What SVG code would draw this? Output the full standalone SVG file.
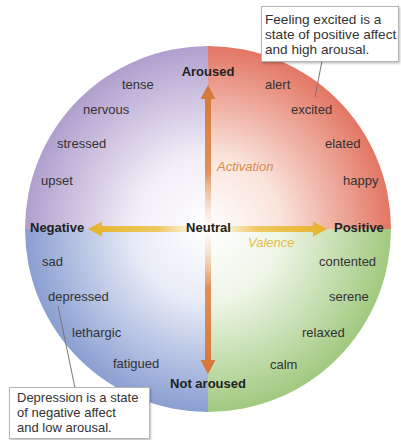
<svg xmlns="http://www.w3.org/2000/svg" width="401" height="440" viewBox="0 0 401 440">
  <defs>
    <radialGradient id="gPurple" gradientUnits="userSpaceOnUse" cx="208" cy="229" r="183">
      <stop offset="0" stop-color="#ffffff"/>
      <stop offset="0.4" stop-color="#f2eef7"/>
      <stop offset="1" stop-color="#b09fce"/>
    </radialGradient>
    <radialGradient id="gRed" gradientUnits="userSpaceOnUse" cx="208" cy="229" r="183">
      <stop offset="0" stop-color="#ffffff"/>
      <stop offset="0.4" stop-color="#fae4dc"/>
      <stop offset="1" stop-color="#e37663"/>
    </radialGradient>
    <radialGradient id="gBlue" gradientUnits="userSpaceOnUse" cx="208" cy="229" r="183">
      <stop offset="0" stop-color="#ffffff"/>
      <stop offset="0.4" stop-color="#e8ecf7"/>
      <stop offset="1" stop-color="#8a9ed1"/>
    </radialGradient>
    <radialGradient id="gGreen" gradientUnits="userSpaceOnUse" cx="208" cy="229" r="183">
      <stop offset="0" stop-color="#ffffff"/>
      <stop offset="0.4" stop-color="#eef6e7"/>
      <stop offset="1" stop-color="#a1c97f"/>
    </radialGradient>
    <linearGradient id="gVert" gradientUnits="userSpaceOnUse" x1="0" y1="85" x2="0" y2="374">
      <stop offset="0" stop-color="#d47638"/>
      <stop offset="0.3" stop-color="#e09058"/>
      <stop offset="0.5" stop-color="#fbeee4" stop-opacity="0.2"/>
      <stop offset="0.7" stop-color="#e09058"/>
      <stop offset="1" stop-color="#d47638"/>
    </linearGradient>
    <linearGradient id="gHorz" gradientUnits="userSpaceOnUse" x1="88" y1="0" x2="327" y2="0">
      <stop offset="0" stop-color="#e6b22a"/>
      <stop offset="0.3" stop-color="#efc964"/>
      <stop offset="0.5" stop-color="#fdf5e0" stop-opacity="0.2"/>
      <stop offset="0.7" stop-color="#efc964"/>
      <stop offset="1" stop-color="#e6b22a"/>
    </linearGradient>
    <filter id="shadow" x="-10%" y="-10%" width="130%" height="140%">
      <feDropShadow dx="1" dy="1.5" stdDeviation="1.2" flood-color="#000" flood-opacity="0.25"/>
    </filter>
  </defs>
  <style>
    .word { font-family: "Liberation Sans", Arial, sans-serif; font-size: 13px; fill: #333333; }
    .axis { font-family: "Liberation Sans", Arial, sans-serif; font-size: 13px; font-weight: bold; fill: #222222; }
    .act { font-family: "Liberation Sans", Arial, sans-serif; font-size: 13px; font-style: italic; fill: #d9894c; }
    .val { font-family: "Liberation Sans", Arial, sans-serif; font-size: 13px; font-style: italic; fill: #e3bc48; }
    .note { font-family: "Liberation Sans", Arial, sans-serif; font-size: 13px; fill: #333333; }
    .note-lg { font-size: 13.6px; }
    .box { fill: #ffffff; stroke: #b5b5b5; stroke-width: 1; }
    .leader { stroke: #777777; stroke-width: 1; fill: none; }
  </style>

  <!-- circumplex disc: four quadrants fading to white at the centre -->
  <g id="disc">
    <path d="M208 229 L208 46 A183 183 0 0 0 25 229 Z" fill="url(#gPurple)"/>
    <path d="M208 229 L208 46 A183 183 0 0 1 391 229 Z" fill="url(#gRed)"/>
    <path d="M208 229 L25 229 A183 183 0 0 0 208 412 Z" fill="url(#gBlue)"/>
    <path d="M208 229 L391 229 A183 183 0 0 1 208 412 Z" fill="url(#gGreen)"/>
  </g>

  <!-- axes -->
  <g id="connectors">
    <path id="activation-axis" d="M205 99 L200.5 99 L208 85 L215.5 99 L211 99 L211 360 L215.5 360 L208 374 L200.5 360 L205 360 Z" fill="url(#gVert)"/>
    <path id="valence-axis" d="M102 226 L102 221.5 L88 229 L102 236.5 L102 232 L313 232 L313 236.5 L327 229 L313 221.5 L313 226 Z" fill="url(#gHorz)"/>
    <line class="leader" x1="322" y1="61" x2="315" y2="97"/>
    <line class="leader" x1="58" y1="306" x2="75" y2="388"/>
  </g>

  <g id="aroused"><text class="axis" x="208" y="76" text-anchor="middle">Aroused</text></g>
  <g id="not-aroused"><text class="axis" x="208" y="388" text-anchor="middle">Not aroused</text></g>
  <g id="negative"><text class="axis" x="30" y="232">Negative</text></g>
  <g id="positive"><text class="axis" x="334" y="232">Positive</text></g>
  <g id="neutral"><text class="axis" x="208.5" y="232" text-anchor="middle">Neutral</text></g>
  <g id="activation"><text class="act" x="217" y="171">Activation</text></g>
  <g id="valence"><text class="val" x="248" y="247">Valence</text></g>

  <!-- negative / aroused -->
  <g id="tense"><text class="word" x="122" y="89">tense</text></g>
  <g id="nervous"><text class="word" x="83" y="114">nervous</text></g>
  <g id="stressed"><text class="word" x="57" y="148">stressed</text></g>
  <g id="upset"><text class="word" x="41" y="185">upset</text></g>

  <!-- positive / aroused -->
  <g id="alert"><text class="word" x="265" y="89">alert</text></g>
  <g id="excited"><text class="word" x="291" y="114">excited</text></g>
  <g id="elated"><text class="word" x="325" y="148">elated</text></g>
  <g id="happy"><text class="word" x="343" y="185">happy</text></g>

  <!-- negative / not aroused -->
  <g id="sad"><text class="word" x="42" y="266">sad</text></g>
  <g id="depressed"><text class="word" x="48" y="301">depressed</text></g>
  <g id="lethargic"><text class="word" x="72" y="337">lethargic</text></g>
  <g id="fatigued"><text class="word" x="113" y="368">fatigued</text></g>

  <!-- positive / not aroused -->
  <g id="contented"><text class="word" x="319" y="266">contented</text></g>
  <g id="serene"><text class="word" x="329" y="301">serene</text></g>
  <g id="relaxed"><text class="word" x="302" y="337">relaxed</text></g>
  <g id="calm"><text class="word" x="270" y="369">calm</text></g>

  <!-- callouts -->
  <g id="note-excited">
    <rect class="box" x="261.5" y="6.5" width="137" height="55" filter="url(#shadow)"/>
    <text class="note note-lg" x="265" y="24">Feeling excited is a</text>
    <text class="note note-lg" x="265" y="39">state of positive affect</text>
    <text class="note note-lg" x="265" y="54">and high arousal.</text>
  </g>
  <g id="note-depression">
    <rect class="box" x="9.5" y="387.5" width="140" height="51" filter="url(#shadow)"/>
    <text class="note" x="17" y="402">Depression is a state</text>
    <text class="note" x="17" y="417">of negative affect</text>
    <text class="note" x="17" y="432">and low arousal.</text>
  </g>
</svg>
